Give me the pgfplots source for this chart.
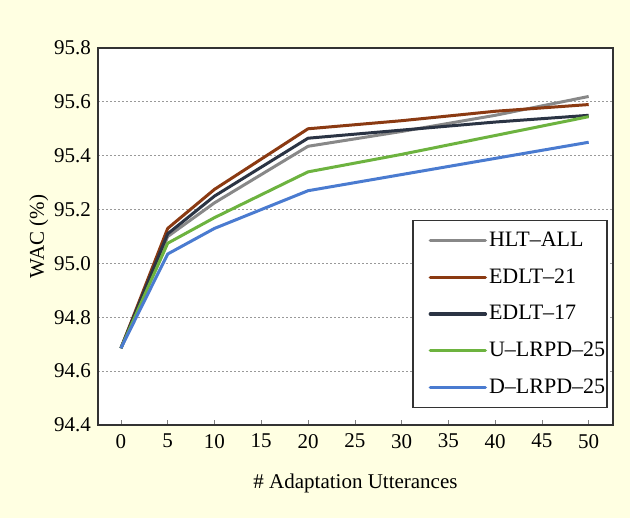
\documentclass[border=0pt]{standalone}
\usepackage{fontspec}
\setmainfont{Liberation Serif}
\usepackage{pgfplots}
\pgfplotsset{compat=1.18}
\definecolor{cream}{HTML}{FFFFE2}
\definecolor{cgray}{HTML}{888888}
\definecolor{cbrown}{HTML}{8B3A12}
\definecolor{cdark}{HTML}{2B3444}
\definecolor{cgreen}{HTML}{6DB33F}
\definecolor{cblue}{HTML}{4A7BD0}
\begin{document}
\begin{tikzpicture}
\fill[cream] (-49pt,-46.5pt) rectangle (266pt,212.5pt);
\begin{axis}[
  at={(0pt,0pt)}, anchor=south west,
  scale only axis,
  width=257.5pt, height=188.5pt,
  xmin=-2.45, xmax=52.6,
  ymin=94.4, ymax=95.8,
  xtick={0,5,...,50},
  ytick={94.4,94.6,...,95.8},
  yticklabel style={/pgf/number format/.cd,fixed,fixed zerofill,precision=1},
  /pgf/number format/assume math mode=true,
  tick label style={font=\fontsize{10.5}{12}\selectfont},
  label style={font=\fontsize{10.5}{12}\selectfont},
  xlabel={\# Adaptation Utterances},
  ylabel={WAC (\%)},
  xlabel style={yshift=-6pt},
  ylabel style={yshift=-4pt},
  xtick pos=bottom,
  xtick align=inside,
  major tick length=2.5pt,
  ytick style={draw=none},
  ymajorgrids,
  grid style={gray!80, dash pattern=on 1.2pt off 0.8pt, line width=0.6pt},
  axis line style={black!80, line width=0.7pt},
  axis background/.style={fill=white},
  xticklabel style={yshift=-1pt},
  legend style={at={(0.99,0.045)}, anchor=south east, draw=black!80, line width=0.7pt,
    font=\fontsize{11}{13}\selectfont, row sep=5.6pt, inner xsep=0pt, inner ysep=3.5pt,
    nodes={inner xsep=1pt}},
  legend cell align=left,
  legend image code/.code={\path (0pt,0pt); \draw[#1, line width=1.7pt, line cap=round] (8pt,0pt) -- (35.5pt,0pt);},
  every axis plot/.append style={line width=1.5pt, line join=round},
]
\addplot[cgray] coordinates {(0,94.685) (5,95.10) (10,95.225) (20,95.435) (30,95.49) (40,95.55) (50,95.62)};
\addlegendentry{HLT--ALL}
\addplot[cbrown] coordinates {(0,94.685) (5,95.13) (10,95.275) (20,95.50) (30,95.53) (40,95.565) (50,95.59)};
\addlegendentry{EDLT--21}
\addplot[cdark] coordinates {(0,94.685) (5,95.11) (10,95.25) (20,95.465) (30,95.495) (40,95.525) (50,95.55)};
\addlegendentry{EDLT--17}
\addplot[cgreen] coordinates {(0,94.685) (5,95.075) (10,95.17) (20,95.34) (30,95.405) (40,95.475) (50,95.545)};
\addlegendentry{U--LRPD--25}
\addplot[cblue] coordinates {(0,94.685) (5,95.035) (10,95.13) (20,95.27) (30,95.33) (40,95.39) (50,95.45)};
\addlegendentry{D--LRPD--25}
\end{axis}
\end{tikzpicture}
\end{document}
